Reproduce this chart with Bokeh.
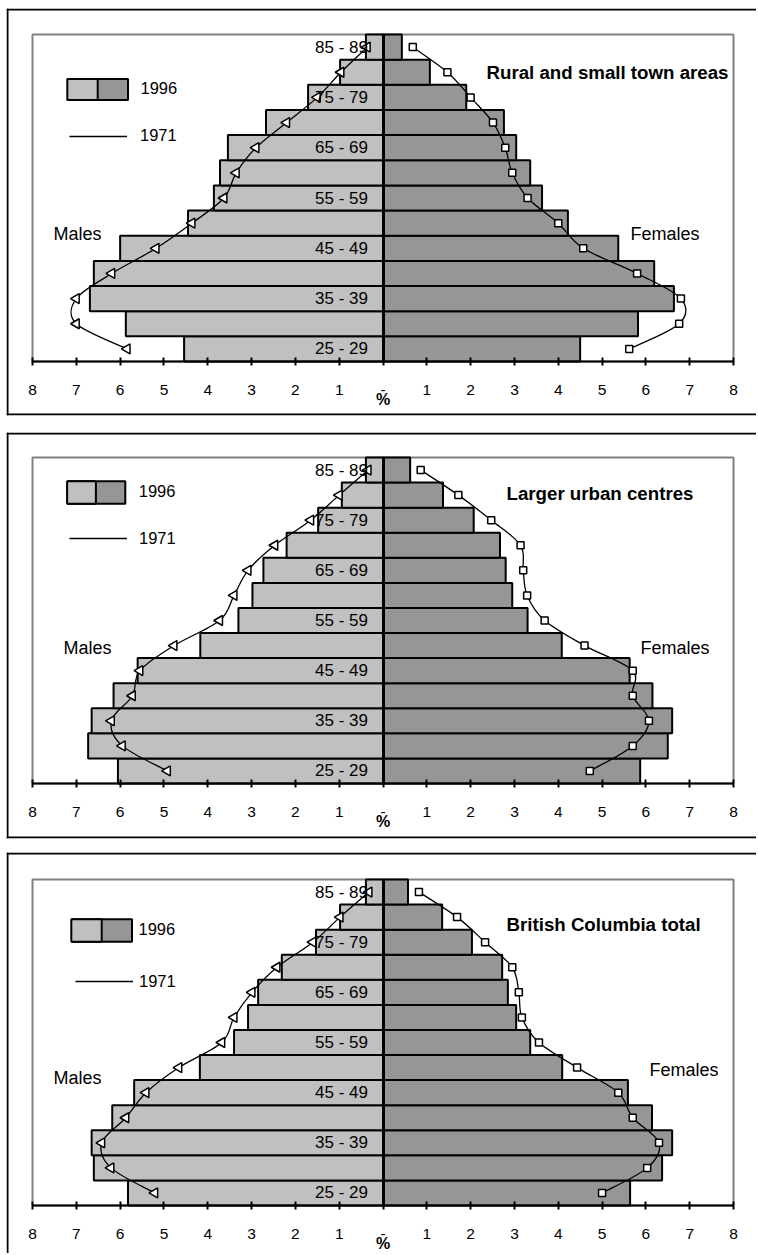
import math
from bokeh.plotting import figure
from bokeh.models import (FixedTicker, Label, Legend, LegendItem, Span,
                          BoxAnnotation, ColumnDataSource, Range1d)
from bokeh.layouts import column
from bokeh.embed import file_html
from bokeh.resources import INLINE

# ---------------- data ----------------
AGE_GROUPS = ["25 - 29", "30 - 34", "35 - 39", "40 - 44", "45 - 49", "50 - 54",
              "55 - 59", "60 - 64", "65 - 69", "70 - 74", "75 - 79", "80 - 84", "85 - 89"]
X_TICKS = list(range(-8, 9))
X_TICK_LABELS = ["8", "7", "6", "5", "4", "3", "2", "1", "-",
                 "1", "2", "3", "4", "5", "6", "7", "8"]

# Rural and small town areas (bottom 25-29 -> top 85-89), % of population
rural_male_1996 = [4.54, 5.87, 6.69, 6.60, 6.00, 4.45, 3.86, 3.72, 3.54, 2.67, 1.71, 0.98, 0.39]
rural_female_1996 = [4.50, 5.82, 6.64, 6.19, 5.37, 4.22, 3.63, 3.36, 3.04, 2.76, 1.90, 1.07, 0.43]
rural_male_1971 = [5.84, 7.00, 7.00, 6.19, 5.18, 4.36, 3.63, 3.35, 2.90, 2.20, 1.50, 0.96, 0.36]
rural_female_1971 = [5.62, 6.76, 6.80, 5.80, 4.57, 4.00, 3.30, 2.95, 2.79, 2.51, 2.00, 1.47, 0.68]

# Larger urban centres
urban_male_1996 = [6.05, 6.73, 6.65, 6.15, 5.60, 4.17, 3.30, 2.98, 2.73, 2.20, 1.48, 0.94, 0.39]
urban_female_1996 = [5.87, 6.50, 6.60, 6.15, 5.63, 4.08, 3.30, 2.95, 2.80, 2.67, 2.07, 1.37, 0.62]
urban_male_1971 = [4.92, 5.95, 6.20, 5.72, 5.55, 4.77, 3.73, 3.40, 3.08, 2.47, 1.65, 1.00, 0.34]
urban_female_1971 = [4.72, 5.70, 6.07, 5.70, 5.70, 4.60, 3.69, 3.29, 3.20, 3.14, 2.47, 1.72, 0.86]

# British Columbia total
bc_male_1996 = [5.82, 6.60, 6.65, 6.18, 5.68, 4.18, 3.40, 3.08, 2.85, 2.31, 1.53, 0.98, 0.39]
bc_female_1996 = [5.64, 6.37, 6.60, 6.14, 5.59, 4.09, 3.36, 3.04, 2.85, 2.72, 2.03, 1.35, 0.57]
bc_male_1971 = [5.21, 6.21, 6.42, 5.87, 5.41, 4.66, 3.68, 3.40, 2.99, 2.42, 1.60, 0.98, 0.32]
bc_female_1971 = [5.00, 6.03, 6.30, 5.70, 5.37, 4.43, 3.56, 3.17, 3.10, 2.95, 2.33, 1.69, 0.82]

TITLES = ["Rural and small town areas", "Larger urban centres", "British Columbia total"]

FONT = "Liberation Sans"
MALE_COLOR = "#c0c0c0"
FEMALE_COLOR = "#969696"
FIG_W = 756


def smooth_segments(xs, ys):
    n = len(xs)
    px = [xs[0]] + list(xs) + [xs[-1]]
    py = [ys[0]] + list(ys) + [ys[-1]]
    seg = dict(x0=[], y0=[], x1=[], y1=[], cx0=[], cy0=[], cx1=[], cy1=[])
    for i in range(1, n):
        ax, ay = px[i], py[i]
        bx, by = px[i + 1], py[i + 1]
        seg["x0"].append(ax); seg["y0"].append(ay)
        seg["x1"].append(bx); seg["y1"].append(by)
        seg["cx0"].append(ax + (bx - px[i - 1]) / 6.0)
        seg["cy0"].append(ay + (by - py[i - 1]) / 6.0)
        seg["cx1"].append(bx - (px[i + 2] - ax) / 6.0)
        seg["cy1"].append(by - (py[i + 2] - ay) / 6.0)
    return ColumnDataSource(seg)


def make_panel(title, male96, female96, male71, female71, lay):
    n = len(AGE_GROUPS)
    oy, fh = lay["oy"], lay["fh"]
    ot, ob = lay["outer"]
    pt, pb = lay["plot_tb"]
    pl, pr = 32, 733                      # plot-area left/right (page px)
    ol = 7                                # outer box left (page px)
    fl = ol - 1                           # frame left
    ftop = ot - 1
    fbot = min(ob + 1, oy + fh)
    ppx = (pr - pl) / (X_TICKS[-1] - X_TICKS[0])
    ppy = (pb - pt) / n
    x_range = Range1d(X_TICKS[0] - (pl - fl) / ppx, X_TICKS[-1] + (FIG_W - pr) / ppx)
    y_range = Range1d(-(fbot - pb) / ppy, n + (pt - ftop) / ppy)

    p = figure(width=FIG_W, height=fh, x_range=x_range, y_range=y_range,
               min_border_left=fl, min_border_right=0,
               min_border_top=ftop - oy, min_border_bottom=oy + fh - fbot,
               toolbar_location=None, output_backend="svg")
    p.grid.visible = False
    p.outline_line_color = None
    p.background_fill_color = "white"
    p.border_fill_color = "white"

    # outer panel frame (top, left, bottom lines)
    p.add_layout(Span(location=(pb - ot) / ppy, dimension="width",
                      line_color="black", line_width=2))
    p.add_layout(Span(location=X_TICKS[0] - (pl - ol) / ppx, dimension="height",
                      line_color="black", line_width=2))
    if ob < oy + fh:
        p.add_layout(Span(location=-(ob - pb) / ppy, dimension="width",
                          line_color="black", line_width=2))

    # plot-area border (grey)
    p.add_layout(BoxAnnotation(left=X_TICKS[0], right=X_TICKS[-1], bottom=0, top=n,
                               fill_alpha=0, line_color="#808080", line_alpha=1,
                               line_width=2, level="underlay"))

    # x axis crossing at the bottom of the plot area
    ax = p.xaxis[0]
    ax.fixed_location = 0
    ax.bounds = (X_TICKS[0], X_TICKS[-1])
    ax.ticker = FixedTicker(ticks=X_TICKS)
    ax.major_label_overrides = {t: s for t, s in zip(X_TICKS, X_TICK_LABELS)}
    ax.axis_line_width = 2
    ax.axis_line_color = "black"
    ax.major_tick_line_width = 2
    ax.major_tick_line_color = "black"
    ax.major_tick_in = 4
    ax.major_tick_out = 4
    ax.minor_tick_line_color = None
    ax.major_label_standoff = 19
    ax.major_label_text_font = FONT
    ax.major_label_text_font_size = "15.5px"
    ax.major_label_text_color = "black"
    ax.axis_label = "%"
    ax.axis_label_standoff = -7
    ax.axis_label_text_font = FONT
    ax.axis_label_text_font_size = "16px"
    ax.axis_label_text_font_style = "bold"
    ax.axis_label_text_color = "black"

    centers = [i + 0.5 for i in range(n)]
    lab_idx = list(range(0, n, 2))

    # vertical (age group) axis crossing at 0
    yax = p.yaxis[0]
    yax.fixed_location = 0
    yax.bounds = (0, n)
    yax.ticker = FixedTicker(ticks=[centers[i] for i in lab_idx])
    yax.major_label_overrides = {centers[i]: AGE_GROUPS[i] for i in lab_idx}
    yax.axis_line_width = 3
    yax.axis_line_color = "black"
    yax.major_tick_line_color = None
    yax.minor_tick_line_color = None
    yax.major_tick_in = 0
    yax.major_tick_out = 0
    yax.major_label_standoff = 15
    yax.major_label_text_font = FONT
    yax.major_label_text_font_size = "17px"
    yax.major_label_text_color = "black"

    src = ColumnDataSource(dict(y=centers,
                                mleft=[-v for v in male96], zero=[0] * n,
                                fright=female96))
    mbars = p.hbar(y="y", left="mleft", right="zero", height=1, source=src,
                   fill_color=MALE_COLOR, line_color="black", line_width=2)
    fbars = p.hbar(y="y", left="zero", right="fright", height=1, source=src,
                   fill_color=FEMALE_COLOR, line_color="black", line_width=2)

    # 1971 smoothed lines with markers
    mx = [-v for v in male71]
    p.bezier(x0="x0", y0="y0", x1="x1", y1="y1", cx0="cx0", cy0="cy0",
             cx1="cx1", cy1="cy1", source=smooth_segments(mx, centers),
             line_color="black", line_width=1.3)
    fcurve = p.bezier(x0="x0", y0="y0", x1="x1", y1="y1", cx0="cx0", cy0="cy0",
                      cx1="cx1", cy1="cy1", source=smooth_segments(female71, centers),
                      line_color="black", line_width=1.3)
    p.scatter(x=mx, y=centers, marker="triangle", size=10, angle=math.pi / 2,
              fill_color="white", line_color="black", line_width=1.5)
    p.scatter(x=female71, y=centers, marker="square", size=7,
              fill_color="white", line_color="black", line_width=1.5)

    # ---- legend (stacked legends mimic the split swatch) ----
    sl, sr, st, sb = lay["swatch"]
    ll, lr, ly = lay["line"]
    tx = lay["text_x"]
    sw = sr - sl
    W = sw / 0.8
    H = (sb - st) / 0.8
    box_x = sl - 0.1 * W
    box_bottom = st - 0.1 * H + H
    common = dict(padding=0, margin=0, background_fill_alpha=0, border_line_alpha=0,
                  label_text_font=FONT, label_text_font_size="16.5px",
                  label_text_color="black")
    leg_f = Legend(items=[LegendItem(label="1996", renderers=[fbars])],
                   location=(box_x - fl, fbot - box_bottom),
                   glyph_width=int(round(W)), glyph_height=int(round(H)),
                   label_height=int(round(H)),
                   label_standoff=int(round(tx - (box_x + W))), **common)
    Wm = (sw / 2.0) / 0.8
    leg_m = Legend(items=[LegendItem(label=" ", renderers=[mbars])],
                   location=(sl - 0.1 * Wm - fl, fbot - box_bottom),
                   glyph_width=int(round(Wm)), glyph_height=int(round(H)),
                   label_height=int(round(H)), label_standoff=2, **common)
    leg_l = Legend(items=[LegendItem(label="1971", renderers=[fcurve])],
                   location=(ll - fl, fbot - (ly + 10)),
                   glyph_width=int(round(lr - ll)), glyph_height=20, label_height=20,
                   label_standoff=int(round(tx - lr)), **common)
    p.add_layout(leg_f)
    p.add_layout(leg_m)
    p.add_layout(leg_l)

    # ---- text labels ----
    tl_x, tl_y = lay["title"]
    p.add_layout(Label(x=tl_x - fl, y=fbot - tl_y, x_units="screen", y_units="screen",
                       text=title, text_font=FONT, text_font_size="18.7px",
                       text_font_style="bold", text_baseline="middle",
                       text_align="left", text_color="black"))
    m_x, m_y = lay["males"]
    p.add_layout(Label(x=m_x - fl, y=fbot - m_y, x_units="screen", y_units="screen",
                       text="Males", text_font=FONT, text_font_size="18px",
                       text_baseline="middle", text_align="left", text_color="black"))
    f_x, f_y = lay["females"]
    p.add_layout(Label(x=f_x - fl, y=fbot - f_y, x_units="screen", y_units="screen",
                       text="Females", text_font=FONT, text_font_size="18px",
                       text_baseline="middle", text_align="left", text_color="black"))
    return p


layouts = [
    dict(oy=0, fh=423, outer=(9, 414), plot_tb=(34, 361),
         swatch=(67, 127, 78, 99), line=(69, 127, 135.5), text_x=140,
         title=(486, 71.5), males=(53, 233), females=(630, 233)),
    dict(oy=423, fh=422, outer=(433, 837), plot_tb=(457, 783),
         swatch=(67, 125, 481, 503), line=(69, 127, 538), text_x=139,
         title=(506, 493), males=(63, 647), females=(640, 647)),
    dict(oy=845, fh=408, outer=(853, 1300), plot_tb=(879, 1205),
         swatch=(71, 131, 919, 941), line=(75, 133, 981), text_x=139,
         title=(506, 923.5), males=(53, 1077), females=(649, 1069)),
]

p1 = make_panel(TITLES[0], rural_male_1996, rural_female_1996, rural_male_1971, rural_female_1971, layouts[0])
p2 = make_panel(TITLES[1], urban_male_1996, urban_female_1996, urban_male_1971, urban_female_1971, layouts[1])
p3 = make_panel(TITLES[2], bc_male_1996, bc_female_1996, bc_male_1971, bc_female_1971, layouts[2])

page = column(p1, p2, p3)
open("out.html", "w").write(file_html(page, INLINE))
